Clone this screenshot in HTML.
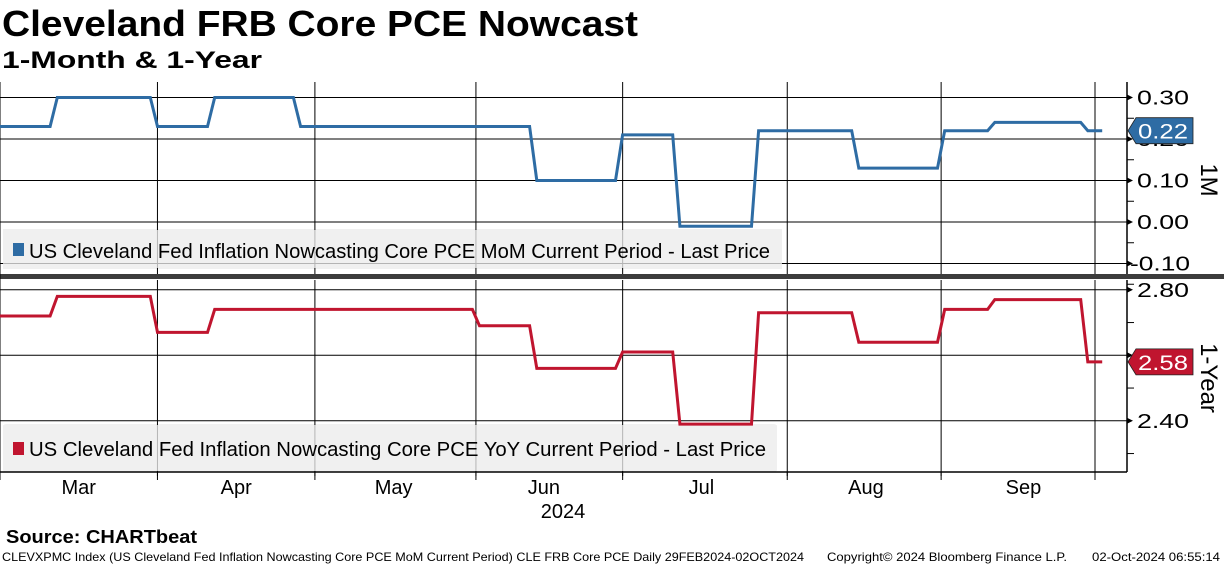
<!DOCTYPE html>
<html><head><meta charset="utf-8">
<style>
html,body{margin:0;padding:0;background:#fff;}
body{width:1224px;height:566px;overflow:hidden;position:relative;font-family:"Liberation Sans","DejaVu Sans",sans-serif;}
svg{position:absolute;left:0;top:0;}
</style></head>
<body>
<svg id="chart" width="1224" height="566" viewBox="0 0 1224 566">
<text x="2" y="36" font-size="36" font-weight="bold" fill="#000" textLength="636" lengthAdjust="spacingAndGlyphs">Cleveland FRB Core PCE Nowcast</text>
<text x="2" y="68" font-size="24" font-weight="bold" fill="#000" textLength="260" lengthAdjust="spacingAndGlyphs">1-Month &amp; 1-Year</text>
<text x="6" y="543" font-size="18" font-weight="bold" fill="#000" textLength="191" lengthAdjust="spacingAndGlyphs">Source: CHARTbeat</text>
<text x="2" y="561" font-size="12" fill="#000" textLength="802" lengthAdjust="spacingAndGlyphs">CLEVXPMC Index (US Cleveland Fed Inflation Nowcasting Core PCE MoM Current Period) CLE FRB Core PCE  Daily 29FEB2024-02OCT2024</text>
<text x="827" y="561" font-size="12" fill="#000" textLength="240" lengthAdjust="spacingAndGlyphs">Copyright© 2024 Bloomberg Finance L.P.</text>
<text x="1092" y="561" font-size="12" fill="#000" textLength="128" lengthAdjust="spacingAndGlyphs">02-Oct-2024 06:55:14</text>
<g id="plot"></g>
</svg>
<script>
// ---- data ----
const momDates = ['2024-02-29','2024-03-12','2024-04-01','2024-04-11','2024-04-29','2024-06-13','2024-07-01','2024-07-11','2024-07-26','2024-08-15','2024-09-02','2024-09-11','2024-09-30'];
const momValues = [0.23,0.30,0.23,0.30,0.23,0.10,0.21,-0.01,0.22,0.13,0.22,0.24,0.22];
const yoyDates = ['2024-02-29','2024-03-12','2024-04-01','2024-04-11','2024-06-03','2024-06-13','2024-07-01','2024-07-11','2024-07-26','2024-08-15','2024-09-02','2024-09-11','2024-09-30'];
const yoyValues = [2.72,2.78,2.67,2.74,2.69,2.56,2.61,2.39,2.73,2.64,2.74,2.77,2.58];
const endDate = '2024-10-02';
const monthStarts = ['2024-04-01','2024-05-01','2024-06-01','2024-07-01','2024-08-01','2024-09-01','2024-10-01'];
const monthLabels = ['Mar','Apr','May','Jun','Jul','Aug','Sep'];
const monthLabelDates = ['2024-03-15','2024-04-16','2024-05-16','2024-06-14','2024-07-16','2024-08-16','2024-09-17'];
const momTicks = [0.30,0.20,0.10,0.00,-0.10];
const momTickLabels = ['0.30','0.20','0.10','0.00','-0.10'];
const yoyTicks = [2.80,2.60,2.40];
const yoyTickLabels = ['2.80','2.60','2.40'];

const NS='http://www.w3.org/2000/svg';
const g=document.getElementById('plot');
function mk(tag,attrs,parent){const e=document.createElementNS(NS,tag);for(const k in attrs)e.setAttribute(k,attrs[k]);(parent||g).appendChild(e);return e;}
const START=Date.UTC(2024,1,29);
function bday(s){const p=s.split('-');const t=Date.UTC(+p[0],+p[1]-1,+p[2]);let n=0;for(let d=START;d<t;d+=86400000){const wd=new Date(d).getUTCDay();if(wd!==0&&wd!==6)n++;}const wd=new Date(t).getUTCDay();if(wd===0||wd===6)n-=0.5;return n;}
const PX=1095/bday('2024-10-01');
const x=s=>bday(s)*PX;
const yTop=v=>222-(v*415);
const yBot=v=>355.3-(v-2.60)*327.5;
const BLUE='#2e6ca4',RED='#c0152f';
const AX=1127;

let e;
e=mk('rect',{x:3,y:229,width:779,height:40,fill:'#f0f0f0'});


e=mk('rect',{x:3,y:424,width:774,height:48,rx:3,fill:'#f0f0f0'});



momTicks.forEach((v,i)=>{e=mk('line',{x1:0,x2:AX,y1:yTop(v),y2:yTop(v),stroke:'#000','stroke-width':1});

});
yoyTicks.forEach((v,i)=>{e=mk('line',{x1:0,x2:AX,y1:yBot(v),y2:yBot(v),stroke:'#000','stroke-width':1});

});
monthStarts.forEach(d=>{const xx=x(d);
e=mk('line',{x1:xx,x2:xx,y1:82,y2:274,stroke:'#000','stroke-width':1});


e=mk('line',{x1:xx,x2:xx,y1:280,y2:480,stroke:'#000','stroke-width':1});

});
e=mk('rect',{x:3,y:230,width:779,height:38,fill:'#f0f0f0','fill-opacity':0.75});


e=mk('rect',{x:3,y:425,width:774,height:46,fill:'#f0f0f0','fill-opacity':0.75});



e=mk('line',{x1:AX,x2:AX,y1:82,y2:274,stroke:'#000','stroke-width':1.5});


e=mk('line',{x1:AX,x2:AX,y1:280,y2:472,stroke:'#000','stroke-width':1.5});


e=mk('line',{x1:0,x2:AX,y1:472,y2:472,stroke:'#000','stroke-width':1.5});


e=mk('rect',{x:0,y:274,width:1224,height:5,fill:'#3c3c3c'});


e=mk('line',{x1:0,x2:0,y1:82,y2:480,stroke:'#000','stroke-width':1});



momTicks.forEach((v,i)=>{const yy=yTop(v);
e=mk('path',{d:`M${AX} ${yy-3}L${AX+6} ${yy}L${AX} ${yy+3}Z`,fill:'#000'});


e=mk('line',{x1:AX,x2:AX+7,y1:yTop(v-0.05),y2:yTop(v-0.05),stroke:'#000'});


const neg=momTickLabels[i].startsWith('-');
e=mk('text',{x:neg?1130:1137,y:yy+7,'font-size':20,fill:'#000',textLength:neg?60:52,lengthAdjust:'spacingAndGlyphs'});e.textContent=momTickLabels[i];

});
yoyTicks.forEach((v,i)=>{const yy=yBot(v);
e=mk('path',{d:`M${AX} ${yy-3}L${AX+6} ${yy}L${AX} ${yy+3}Z`,fill:'#000'});


e=mk('line',{x1:AX,x2:AX+7,y1:yBot(v-0.1),y2:yBot(v-0.1),stroke:'#000'});


e=mk('text',{x:1137,y:yy+7,'font-size':20,fill:'#000',textLength:52,lengthAdjust:'spacingAndGlyphs'});e.textContent=yoyTickLabels[i];

});

e=mk('text',{x:0,y:0,'font-size':24,fill:'#000',transform:'translate(1201,180) rotate(90)','text-anchor':'middle'});e.textContent='1M';


e=mk('text',{x:0,y:0,'font-size':24,fill:'#000',transform:'translate(1201,378) rotate(90)','text-anchor':'middle'});e.textContent='1-Year';



monthStarts.forEach(d=>{const xx=x(d);
e=mk('line',{x1:xx,x2:xx,y1:472,y2:476,stroke:'#000'});

});
monthLabels.forEach((m,i)=>{e=mk('text',{x:x(monthLabelDates[i]),y:494,'font-size':20,fill:'#000','text-anchor':'middle'});e.textContent=m;

});
e=mk('text',{x:563,y:518,'font-size':20,fill:'#000','text-anchor':'middle'});e.textContent='2024';



function stepPts(dates,vals,yf){const pts=[];for(let i=0;i<dates.length;i++){const xi=x(dates[i]);if(i>0)pts.push([xi-PX,yf(vals[i-1])]);pts.push([xi,yf(vals[i])]);}pts.push([x(endDate),yf(vals[vals.length-1])]);return pts.map(p=>p[0].toFixed(1)+','+p[1].toFixed(1)).join(' ');}
e=mk('polyline',{points:stepPts(momDates,momValues,yTop),fill:'none',stroke:BLUE,'stroke-width':3,'stroke-linejoin':'miter'});


e=mk('polyline',{points:stepPts(yoyDates,yoyValues,yBot),fill:'none',stroke:RED,'stroke-width':3,'stroke-linejoin':'miter'});



function tag(v,yf,col,name,txt){const yy=yf(v);
const t=mk('g',{});


mk('path',{d:`M${AX+1} ${yy}L${AX+9} ${yy-13}L1193 ${yy-13}L1193 ${yy+13}L${AX+9} ${yy+13}Z`,fill:col,stroke:'#222','stroke-width':0.8},t);
const tx=mk('text',{x:1138,y:yy+8,'font-size':21,fill:'#fff',textLength:50,lengthAdjust:'spacingAndGlyphs'},t);tx.textContent=txt;}
tag(momValues[momValues.length-1],yTop,BLUE,'last-value-tag-mom',momValues[momValues.length-1].toFixed(2));
tag(yoyValues[yoyValues.length-1],yBot,RED,'last-value-tag-yoy',yoyValues[yoyValues.length-1].toFixed(2));

e=mk('rect',{x:13,y:243,width:11,height:13,fill:BLUE});


e=mk('text',{x:29,y:258,'font-size':20,fill:'#000',textLength:741,lengthAdjust:'spacingAndGlyphs'});e.textContent='US Cleveland Fed Inflation Nowcasting Core PCE MoM Current Period - Last Price';


e=mk('rect',{x:13,y:442,width:11,height:13,fill:RED});


e=mk('text',{x:29,y:456,'font-size':20,fill:'#000',textLength:737,lengthAdjust:'spacingAndGlyphs'});e.textContent='US Cleveland Fed Inflation Nowcasting Core PCE YoY Current Period - Last Price';


</script>
</body></html>
